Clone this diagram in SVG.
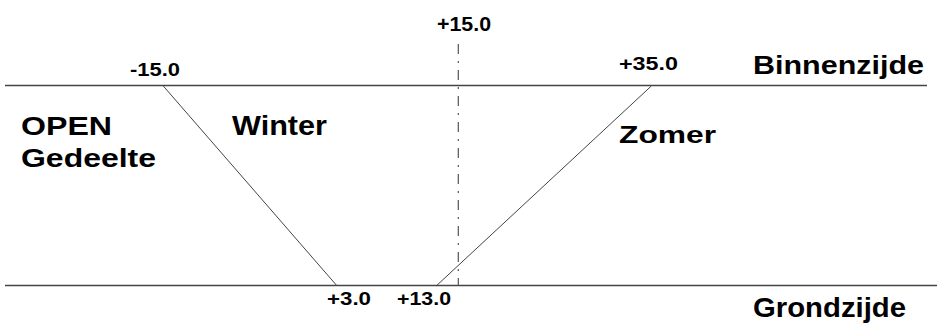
<svg xmlns="http://www.w3.org/2000/svg" width="937" height="326" viewBox="0 0 937 326">
  <style>
    .lbl { font-family: "Liberation Sans", Arial, sans-serif; font-weight: bold; fill: #000; }
    .edge { stroke: #444; stroke-width: 1.6; fill: none; }
    .diag { stroke: #444; stroke-width: 1; fill: none; }
    .axis { stroke: #555; stroke-width: 1.2; stroke-dasharray: 10 7 2 7; fill: none; }
  </style>
  <rect width="937" height="326" fill="#fff"/>
  <g id="connectors">
    <line class="edge" x1="5" y1="85.5" x2="927" y2="85.5"/>
    <line class="edge" x1="5" y1="285.5" x2="937" y2="285.5"/>
    <line class="axis" x1="458.3" y1="44" x2="458.3" y2="286"/>
    <line class="diag" x1="163.3" y1="86" x2="336.7" y2="285.5"/>
    <line class="diag" x1="651.3" y1="86" x2="436.7" y2="285.5"/>
  </g>
  <g id="labels">
    <text class="lbl" x="437" y="31" style="font-size:20px" textLength="54" lengthAdjust="spacingAndGlyphs">+15.0</text>
    <text class="lbl" x="130" y="76" style="font-size:18px" textLength="50" lengthAdjust="spacingAndGlyphs">-15.0</text>
    <text class="lbl" x="619" y="70" style="font-size:19px" textLength="59" lengthAdjust="spacingAndGlyphs">+35.0</text>
    <text class="lbl" x="753" y="74" style="font-size:25px" textLength="171" lengthAdjust="spacingAndGlyphs">Binnenzijde</text>
    <text class="lbl" x="21" y="135" style="font-size:25px" textLength="91" lengthAdjust="spacingAndGlyphs">OPEN</text>
    <text class="lbl" x="21" y="167" style="font-size:26px" textLength="135" lengthAdjust="spacingAndGlyphs">Gedeelte</text>
    <text class="lbl" x="232" y="135" style="font-size:28px" textLength="95" lengthAdjust="spacingAndGlyphs">Winter</text>
    <text class="lbl" x="619" y="143" style="font-size:23px" textLength="97" lengthAdjust="spacingAndGlyphs">Zomer</text>
    <text class="lbl" x="327" y="305" style="font-size:19px" textLength="44" lengthAdjust="spacingAndGlyphs">+3.0</text>
    <text class="lbl" x="397" y="305" style="font-size:19px" textLength="54" lengthAdjust="spacingAndGlyphs">+13.0</text>
    <text class="lbl" x="753" y="317" style="font-size:27px" textLength="153" lengthAdjust="spacingAndGlyphs">Grondzijde</text>
  </g>
</svg>
